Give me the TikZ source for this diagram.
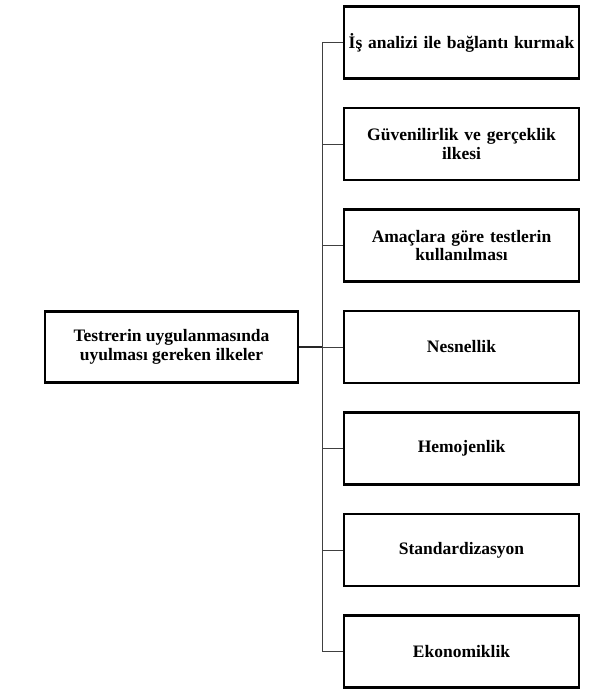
\documentclass[tikz,border=0pt]{standalone}
\usepackage{fontspec}
\setmainfont{Liberation Serif}
\usepackage{tikz}
\usetikzlibrary{positioning}
\tikzset{
    base/.style={
        font=\fontsize{17.5}{18.5}\selectfont\bfseries,
        align=center
    },
    principle/.style={
        base,
        rectangle,
        draw=black,
        line width=2.2pt,
        inner xsep=1pt,
        text width=232pt,
        minimum width=235pt,
        minimum height=72pt
    },
    root/.style={
        base,
        rectangle,
        draw=black,
        line width=2.2pt,
        minimum width=253pt,
        minimum height=71pt
    },
    branch/.style={
        line width=0.7pt,
        color=black!75
    },
    stem/.style={
        line width=1.4pt,
        color=black!85
    }
}

\begin{document}
\begin{tikzpicture}[x=1pt, y=-1pt]
  \useasboundingbox (0,0) rectangle (590,698);

  % Main box
  \node[root] (rootbox) at (171.5,347) {Testrerin uygulanmasında\\uyulması gereken ilkeler};

  % Principles
  \node[principle] (p1) at (461.5,42.5) {İş analizi ile bağlantı kurmak};
  \node[principle, below=27.3pt of p1] (p2) {Güvenilirlik ve gerçeklik\\ilkesi};
  \node[principle, below=27.3pt of p2] (p3) {Amaçlara göre testlerin\\kullanılması};
  \node[principle, below=27.3pt of p3] (p4) {Nesnellik};
  \node[principle, below=27.3pt of p4] (p5) {Hemojenlik};
  \node[principle, below=27.3pt of p5] (p6) {Standardizasyon};
  \node[principle, below=27.3pt of p6] (p7) {Ekonomiklik};

  % Connectors
  \coordinate (trunk) at (322,347);
  \draw[stem] (rootbox.east) -- (trunk);
  \draw[branch] (p1.west) -- (p1.west -| trunk) -- (p7.west -| trunk) -- (p7.west);
  \foreach \i in {2,...,6}
    \draw[branch] (p\i.west) -- (p\i.west -| trunk);
\end{tikzpicture}
\end{document}
